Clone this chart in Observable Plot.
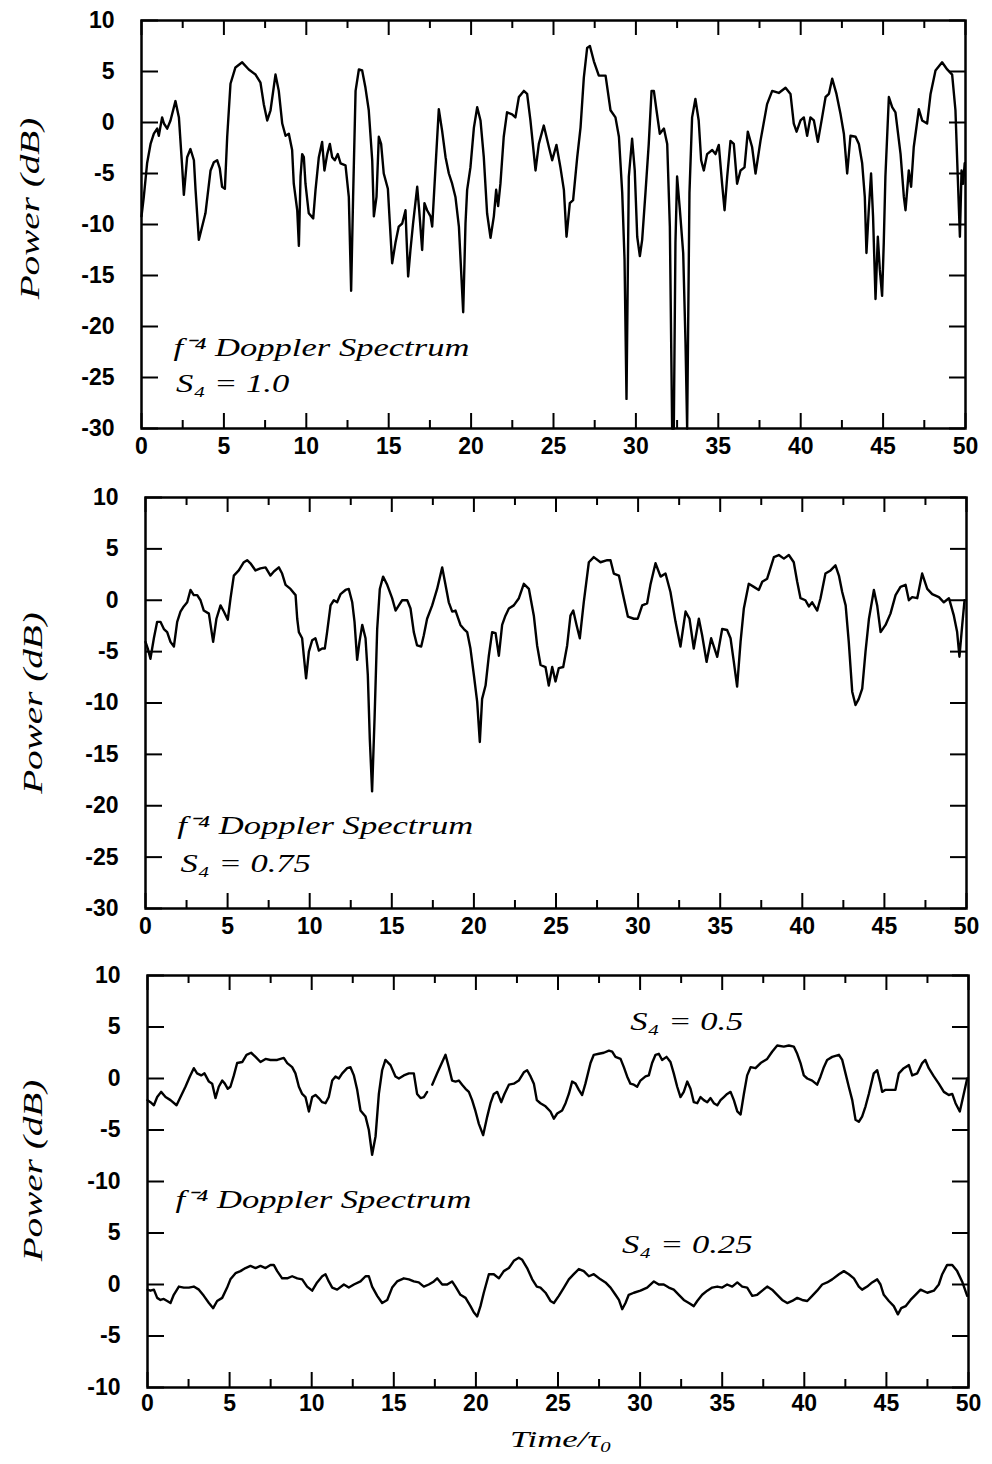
<!DOCTYPE html>
<html><head><meta charset="utf-8">
<script src="https://cdn.jsdelivr.net/npm/d3@7"></script>
<script src="https://cdn.jsdelivr.net/npm/@observablehq/plot@0.6"></script>
<style>
body{margin:0;background:#fff;width:992px;height:1464px;overflow:hidden}
#chart svg{display:block;overflow:visible}
</style>
</head><body><div id="chart"></div>
<script>
// ---------- axis ticks ----------
const xMajorTicks = [0, 5, 10, 15, 20, 25, 30, 35, 40, 45, 50];
const xMinorTicks = [2.5, 7.5, 12.5, 17.5, 22.5, 27.5, 32.5, 37.5, 42.5, 47.5];
const yTicks = [10, 5, 0, -5, -10, -15, -20, -25, -30];
const yTickLabelsTop = ["10", "5", "0", "-5", "-10", "-15", "-20", "-25", "-30"];
const yTickLabelsBottom = ["10", "5", "0", "-5", "-10", "5", "0", "-5", "-10"];
const lowerOffset = -20; // S4 = 0.25 trace is drawn 20 dB lower in panel 3

// ---------- panel 1 : S4 = 1.0 ----------
const p1Time = [0,0.14,0.34,0.55,0.75,0.95,1.05,1.25,1.36,1.56,1.76,2.06,2.27,2.47,2.57,2.77,2.97,3.18,3.28,3.48,3.68,3.88,4.19,4.39,4.59,4.75,4.89,5.06,5.2,5.4,5.7,6.11,6.51,6.92,7.22,7.42,7.63,7.83,8.13,8.33,8.54,8.74,8.94,9.14,9.24,9.45,9.55,9.65,9.75,9.85,9.95,10.15,10.42,10.56,10.76,10.96,11.1,11.27,11.43,11.57,11.73,11.91,12.08,12.38,12.58,12.72,12.84,12.99,13.19,13.39,13.59,13.79,14.0,14.1,14.26,14.4,14.54,14.7,14.95,15.07,15.21,15.41,15.61,15.82,16.02,16.08,16.18,16.32,16.48,16.73,16.85,17.03,17.17,17.33,17.54,17.64,17.84,18.04,18.24,18.45,18.65,18.85,19.05,19.26,19.52,19.66,19.76,19.96,20.17,20.37,20.57,20.77,20.97,21.18,21.38,21.52,21.64,21.78,21.98,22.18,22.49,22.69,22.9,23.2,23.4,23.6,23.91,24.11,24.41,24.72,24.92,25.18,25.42,25.63,25.79,25.99,26.19,26.44,26.64,26.84,27.04,27.21,27.45,27.75,28.16,28.46,28.76,28.97,29.17,29.31,29.43,29.57,29.77,29.93,30.08,30.24,30.38,30.58,30.78,30.95,31.09,31.25,31.45,31.7,31.9,32.06,32.2,32.3,32.4,32.5,32.67,32.87,33.01,33.11,33.25,33.41,33.61,33.81,33.96,34.12,34.32,34.63,34.83,35.03,35.23,35.38,35.54,35.74,35.94,36.14,36.35,36.59,36.79,37.05,37.26,37.56,37.96,38.27,38.67,39.08,39.38,39.58,39.75,39.99,40.19,40.39,40.59,40.8,41.04,41.3,41.51,41.71,41.91,42.17,42.42,42.62,42.82,43.02,43.33,43.53,43.73,43.89,43.99,44.13,44.27,44.39,44.54,44.68,44.8,44.94,45.04,45.14,45.35,45.55,45.75,46.06,46.26,46.36,46.56,46.7,46.86,47.17,47.37,47.67,47.88,48.18,48.58,48.89,49.19,49.39,49.53,49.66,49.76,49.86,49.95];
const p1Power = [-9.2,-7.3,-4.0,-2.1,-1.1,-0.6,-1.3,0.5,-0.1,-0.6,0.2,2.1,0.5,-4.4,-7.1,-3.4,-2.6,-3.7,-6.6,-11.5,-10.2,-8.9,-4.7,-3.9,-3.7,-4.5,-6.3,-6.5,-1.4,3.8,5.4,5.9,5.2,4.7,3.9,1.8,0.2,1.2,4.7,3.1,-0.1,-1.3,-1.1,-2.7,-6.0,-8.6,-12.1,-5.3,-3.1,-3.4,-6.0,-8.9,-9.4,-6.6,-3.4,-1.9,-4.7,-3.1,-2.1,-3.4,-3.7,-3.1,-4.0,-4.2,-7.3,-16.5,-7.3,3.1,5.2,5.1,3.4,1.2,-3.7,-9.2,-7.3,-1.4,-2.1,-5.0,-6.5,-9.9,-13.8,-11.8,-10.2,-9.9,-8.6,-11.2,-15.1,-12.5,-9.9,-6.3,-8.6,-12.5,-7.9,-8.6,-9.2,-10.2,-4.4,1.3,-0.8,-3.4,-5.0,-6.0,-7.3,-10.2,-18.6,-9.9,-6.6,-4.4,-0.5,1.5,0.2,-3.4,-8.9,-11.3,-9.2,-6.6,-8.2,-6.0,-1.4,1.0,0.8,0.5,2.5,3.1,2.8,0.2,-4.7,-2.1,-0.3,-2.4,-3.7,-2.2,-4.4,-6.6,-11.2,-7.9,-7.6,-3.4,-0.5,4.4,7.3,7.5,6.0,4.6,4.6,1.2,0.5,-1.4,-6.9,-13.4,-27.1,-5.3,-1.6,-4.7,-11.2,-13.1,-11.5,-6.9,-2.1,3.1,3.1,1.2,-1.1,-0.6,-2.1,-10.2,-30,-30,-11.8,-5.3,-8.6,-12.8,-21.6,-30,-6.9,0.5,2.3,0.2,-3.7,-4.7,-3.1,-2.7,-3.1,-2.2,-6.0,-8.6,-5.3,-1.8,-2.1,-6.0,-4.7,-4.4,-0.9,-2.4,-5.0,-1.8,1.8,3.1,2.9,3.4,2.8,-0.1,-0.9,0.2,0.5,-1.3,0.5,0.2,-1.9,0.5,2.5,2.8,4.3,2.8,0.8,-1.1,-5.0,-1.3,-1.4,-2.1,-4.0,-7.3,-12.8,-8.6,-5.0,-9.2,-17.3,-11.2,-14.4,-17.0,-11.8,-5.3,2.5,1.5,1.0,-3.1,-7.3,-8.6,-4.7,-6.3,-2.4,1.3,0.2,-0.1,2.8,5.1,5.9,5.2,4.7,1.2,-5.3,-11.2,-4.7,-6.0,-4.0];

// ---------- panel 2 : S4 = 0.75 ----------
const p2Time = [0,0.14,0.3,0.51,0.71,0.91,1.12,1.32,1.52,1.73,1.93,2.13,2.33,2.54,2.74,2.94,3.15,3.35,3.55,3.86,4.12,4.32,4.57,4.77,5.01,5.18,5.38,5.68,5.99,6.19,6.39,6.7,7.0,7.31,7.61,7.82,8.12,8.32,8.53,8.83,9.14,9.24,9.34,9.54,9.64,9.78,9.95,10.15,10.35,10.56,10.76,10.92,11.06,11.27,11.47,11.67,11.88,12.18,12.38,12.59,12.73,12.89,13.03,13.2,13.4,13.54,13.66,13.8,13.95,14.11,14.27,14.47,14.72,15.02,15.23,15.43,15.63,15.94,16.14,16.34,16.54,16.79,16.95,17.15,17.46,17.76,18.07,18.27,18.47,18.68,18.88,19.18,19.39,19.59,19.79,20.0,20.2,20.36,20.5,20.71,20.91,21.11,21.32,21.52,21.72,21.92,22.13,22.43,22.74,23.04,23.35,23.65,23.85,24.06,24.36,24.56,24.77,24.97,25.17,25.44,25.68,25.88,26.05,26.25,26.45,26.69,27.0,27.3,27.71,28.12,28.32,28.52,28.83,29.13,29.38,29.74,29.98,30.25,30.55,30.75,31.06,31.37,31.67,31.97,32.28,32.58,32.89,33.13,33.39,33.7,33.9,34.17,34.45,34.82,35.12,35.42,35.63,35.83,36.03,36.24,36.44,36.74,37.05,37.35,37.56,37.86,38.27,38.57,38.88,39.18,39.48,39.69,39.89,40.19,40.4,40.6,40.91,41.11,41.41,41.72,42.02,42.23,42.43,42.64,42.83,43.04,43.24,43.44,43.65,43.85,44.06,44.36,44.56,44.77,45.07,45.37,45.68,45.98,46.29,46.49,46.69,47.0,47.3,47.61,47.91,48.32,48.62,48.93,49.23,49.43,49.57,49.74,49.88];
const p2Power = [-4.05,-4.7,-5.7,-3.7,-2.1,-2.1,-2.8,-3.1,-4.05,-4.5,-2.1,-1.1,-0.6,-0.2,1.0,0.5,0.5,0,-1.0,-1.3,-4.05,-1.8,-0.5,-1.1,-1.9,0.2,2.4,2.9,3.7,3.9,3.6,2.9,3.1,3.2,2.4,2.8,3.2,2.6,1.5,1.1,0.5,-1.8,-3.1,-3.7,-5.4,-7.6,-5.0,-3.9,-3.7,-4.9,-4.7,-4.7,-3.1,-0.5,0,-0.2,0.6,1.0,1.1,-0.2,-2.1,-5.8,-4.05,-2.4,-3.7,-7.3,-13.5,-18.6,-11.5,-2.8,1.1,2.3,1.5,0.2,-1.0,-0.5,0,0,-0.8,-3.1,-4.4,-4.5,-3.4,-1.8,-0.5,1.1,3.2,1.5,-0.2,-1.1,-1.0,-2.4,-2.8,-3.1,-4.7,-7.3,-9.9,-13.8,-9.6,-8.3,-5.4,-3.1,-3.2,-5.4,-2.4,-1.5,-0.8,-0.5,0.2,1.6,1.1,-1.5,-4.4,-6.3,-6.5,-8.3,-6.5,-7.9,-6.6,-6.5,-4.4,-1.5,-1.0,-2.4,-3.7,-0.2,3.7,4.2,3.7,3.9,3.9,2.6,2.4,0.2,-1.6,-1.8,-1.8,-0.5,-0.3,1.5,3.6,2.3,2.6,0.8,-2.1,-4.5,-1.1,-1.8,-4.7,-1.8,-3.4,-6.0,-3.7,-5.5,-2.8,-2.9,-3.7,-6.0,-8.4,-4.05,-0.8,1.6,1.3,1.0,1.8,2.1,4.2,4.4,4.05,4.4,3.7,1.8,0.2,0,-0.6,-0.2,-1.0,0.2,2.6,2.9,3.4,2.4,0.8,-0.5,-4.05,-8.9,-10.2,-9.6,-8.6,-5.0,-1.8,1.0,-0.5,-3.1,-2.4,-1.3,0.5,1.3,1.5,0,0.3,0.2,2.6,1.1,0.6,0.3,-0.2,0.2,-1.5,-3.1,-5.5,-2.4,0];

// ---------- panel 3 : S4 = 0.5 (upper) ----------
const p3aTime = [0,0.18,0.39,0.59,0.83,1.1,1.4,1.77,2.01,2.31,2.58,2.82,3.02,3.27,3.47,3.74,3.94,4.14,4.34,4.55,4.71,4.89,5.05,5.26,5.46,5.77,6.03,6.31,6.58,6.88,7.19,7.49,7.9,8.3,8.51,8.81,9.01,9.22,9.42,9.62,9.83,10.03,10.23,10.43,10.64,10.84,11.04,11.25,11.45,11.65,11.86,12.16,12.36,12.57,12.77,12.97,13.28,13.48,13.68,13.89,14.09,14.29,14.49,14.8,15.1,15.31,15.61,15.92,16.22,16.42,16.63,16.83,17.03,17.2,17.34,17.64,17.95,18.15,18.35,18.55,18.76,18.96,19.16,19.37,19.57,19.77,19.98,20.18,20.44,20.69,20.89,21.09,21.3,21.54,21.74,22.01,22.31,22.61,22.92,23.12,23.33,23.53,23.71,23.93,24.24,24.54,24.75,24.95,25.25,25.46,25.66,25.86,26.07,26.27,26.47,26.67,26.98,27.18,27.49,27.79,28.1,28.3,28.5,28.81,29.01,29.21,29.41,29.62,29.82,30.02,30.33,30.53,30.73,30.94,31.14,31.34,31.61,31.85,32.05,32.26,32.46,32.66,32.87,33.07,33.27,33.48,33.68,33.88,34.09,34.29,34.49,34.7,34.9,35.1,35.3,35.51,35.71,35.92,36.12,36.32,36.52,36.73,37.03,37.34,37.74,38.04,38.35,38.75,39.06,39.36,39.57,39.77,39.97,40.18,40.48,40.78,40.99,41.19,41.39,41.7,42.11,42.31,42.51,42.71,42.92,43.12,43.32,43.52,43.73,43.93,44.23,44.44,44.64,44.74,44.95,45.25,45.55,45.76,46.06,46.37,46.57,46.88,47.18,47.37,47.58,47.89,48.19,48.5,48.8,49.01,49.21,49.47,49.67,49.92];
const p3aPower = [-2.1,-2.3,-2.6,-1.8,-1.3,-1.8,-2.1,-2.6,-1.8,-0.8,0.2,1.0,0.5,0.3,0.5,-0.3,-0.5,-1.9,-0.8,-0.2,-0.5,-1.0,-0.8,0.3,1.5,1.6,2.3,2.5,2.1,1.6,1.9,1.8,1.8,2.0,1.5,1.1,0.5,-0.8,-1.5,-1.8,-3.2,-1.8,-1.6,-1.9,-2.3,-2.4,-1.8,-0.2,0.2,0,0.5,1.0,1.1,0.3,-1.1,-3.1,-3.7,-5.0,-7.4,-5.6,-1.5,0.8,1.8,1.3,0.2,0,0.3,0.5,0.5,-1.5,-1.9,-1.8,-1.3,null,-0.6,0.5,1.6,2.3,1.1,-0.2,-0.3,-0.2,-0.6,-1.0,-1.3,-2.1,-3.2,-4.4,-5.5,-3.7,-2.4,-1.5,-1.3,-2.3,-1.5,-0.6,-0.5,-0.2,0.6,0.8,0.2,-0.5,-2.1,-2.4,-2.7,-3.2,-3.9,-3.4,-3.1,-2.4,-1.5,-0.3,-0.5,-1.1,-1.6,-0.5,1.5,2.3,2.4,2.5,2.7,2.6,2.1,1.9,1.1,0.2,-0.5,-0.6,-0.8,-0.2,0.2,0.3,1.5,2.3,2.4,1.8,2.1,1.6,0.5,-0.8,-1.8,-1.3,-0.3,-1.0,-2.3,-2.4,-1.8,-2.1,-2.3,-1.9,-2.4,-2.6,-2.1,-1.8,-1.5,-1.3,-2.1,-3.2,-3.5,-1.5,0.3,1.1,1.0,1.5,1.9,2.6,3.2,3.1,3.2,3.1,2.4,1.5,0.3,0,-0.2,-0.6,0.2,1.1,1.8,2.1,2.3,1.8,0.5,-0.8,-2.1,-4.0,-4.2,-3.7,-2.7,-1.5,0.5,0.8,-0.5,-1.3,-1.1,-1.1,-1.1,0.5,1.0,1.3,0.3,0.5,1.5,1.8,1.0,0.2,-0.5,-1.3,-1.6,-1.5,-2.4,-3.2,-1.8,0];

// ---------- panel 3 : S4 = 0.25 (lower, values in its own dB scale) ----------
const p3bTime = [0,0.18,0.39,0.59,0.79,0.99,1.2,1.4,1.6,1.91,2.21,2.52,2.82,3.13,3.43,3.74,4.0,4.24,4.55,4.85,5.05,5.36,5.66,5.97,6.27,6.58,6.88,7.19,7.49,7.69,7.9,8.2,8.51,8.81,9.12,9.42,9.72,10.03,10.33,10.64,10.84,11.04,11.25,11.55,11.96,12.26,12.57,12.97,13.28,13.48,13.68,13.99,14.29,14.6,14.9,15.2,15.61,15.92,16.22,16.52,16.83,17.13,17.44,17.64,17.95,18.25,18.55,18.76,19.06,19.37,19.67,19.87,20.08,20.28,20.48,20.79,21.09,21.4,21.7,22.01,22.31,22.61,22.82,23.12,23.43,23.71,23.93,24.24,24.54,24.75,25.05,25.36,25.66,25.96,26.27,26.57,26.88,27.18,27.59,27.89,28.2,28.5,28.71,28.91,29.11,29.31,29.62,30.02,30.43,30.84,31.14,31.44,31.75,32.05,32.36,32.66,32.97,33.27,33.48,33.78,34.09,34.39,34.7,35.0,35.3,35.61,35.92,36.22,36.52,36.83,37.13,37.44,37.74,38.04,38.35,38.65,38.96,39.26,39.57,39.87,40.18,40.48,40.78,41.09,41.39,41.7,42.11,42.41,42.71,43.02,43.32,43.52,43.83,44.13,44.44,44.64,44.84,45.15,45.45,45.7,45.9,46.17,46.47,46.77,47.08,47.49,47.89,48.19,48.4,48.7,49.01,49.31,49.61,49.92];
const p3bPower = [-0.5,-0.6,-0.5,-1.3,-1.5,-1.4,-1.6,-1.8,-1.0,-0.2,-0.3,-0.3,-0.2,-0.5,-1.1,-1.8,-2.3,-1.6,-1.3,-0.3,0.5,1.1,1.3,1.6,1.8,1.6,1.8,1.6,1.9,1.9,1.3,0.6,0.6,0.8,0.6,0.5,-0.2,-0.6,0.2,0.8,1.0,0.3,-0.3,-0.5,0,-0.3,0,0.3,0.8,0.8,-0.2,-1.1,-1.8,-1.5,-0.3,0.3,0.6,0.5,0.3,0.2,-0.2,0,0.3,0.6,0,0,0.3,-0.2,-1.0,-1.3,-2.1,-2.7,-3.1,-2.1,-0.8,1.0,1.0,0.6,1.3,1.6,2.3,2.6,2.4,1.6,0.5,-0.2,-0.3,-0.8,-1.6,-1.8,-1.1,-0.3,0.5,1.0,1.5,1.3,0.8,1.0,0.5,0.2,-0.3,-1.0,-1.5,-2.4,-1.8,-1.0,-0.8,-0.6,-0.3,0.3,0,0,-0.3,-0.5,-1.0,-1.5,-1.8,-2.1,-1.6,-1.0,-0.6,-0.3,-0.2,-0.3,0,-0.2,0.2,-0.2,-0.3,-1.1,-1.0,-0.6,-0.2,-0.5,-1.0,-1.5,-1.8,-1.6,-1.3,-1.5,-1.6,-1.1,-0.6,0,0.2,0.5,1.0,1.3,1.0,0.6,-0.2,-0.5,-0.2,0.2,0.5,0,-1.0,-1.6,-2.1,-2.9,-2.3,-2.1,-1.5,-1.0,-0.5,-0.8,-0.6,0,1.0,1.9,1.9,1.3,0.3,-1.1];

// ---------- text ----------
const yAxisLabel = "Power (dB)";
const xAxisLabel = "Time/τ₀";
const spectrumLabel = "f⁻⁴ Doppler Spectrum";
const p1Notes = [{t: 1.94, p: -22.1, text: spectrumLabel}, {t: 2.1, p: -25.6, text: "S₄ = 1.0"}];
const p2Notes = [{t: 1.93, p: -21.9, text: spectrumLabel}, {t: 2.13, p: -25.6, text: "S₄ = 0.75"}];
const p3Notes = [{t: 1.7, p: -11.8, text: spectrumLabel}, {t: 29.4, p: 5.5, text: "S₄ = 0.5"}, {t: 28.9, p: -16.1, text: "S₄ = 0.25"}];

const rows = (ts, ps) => ts.map((t, i) => ({t, p: ps[i]}));
const SERIF = "'Liberation Serif', 'Times New Roman', serif";
const SANS = "'Liberation Sans', Arial, Helvetica, sans-serif";
const noteTexts = new Set([...p1Notes, ...p2Notes, ...p3Notes].map(d => d.text));

// horizontal widening of the serif labels (the original typeface is wider than Times)
function stretchText(svg) {
  svg.querySelectorAll("text").forEach(t => {
    const s = t.textContent;
    let k = 0;
    if (noteTexts.has(s)) k = 1.33;
    else if (s === yAxisLabel) k = 1.4;
    else if (s === xAxisLabel) k = 1.45;
    if (!k) return;
    const x = +t.getAttribute("x") || 0, y = +t.getAttribute("y") || 0;
    const tr = t.getAttribute("transform") || "";
    t.setAttribute("transform", `${tr} translate(${x} ${y}) scale(${k} 1) translate(${-x} ${-y})`);
  });
}

function panel(cfg) {
  const {height, mt, mb, ml, mr, series, notes, yLabels, labelDx, labelDy, xPad, extra = []} = cfg;
  const fh = height - mt - mb, fw = 992 - ml - mr;
  const labelMap = new Map(yTicks.map((v, i) => [v, yLabels[i]]));
  const svg = Plot.plot({
    width: 992, height,
    marginTop: mt, marginBottom: mb, marginLeft: ml, marginRight: mr,
    x: {domain: [0, 50]},
    y: {domain: [-30, 10]},
    style: {background: "white", color: "black", fontFamily: SANS},
    marks: [
      Plot.tickX(xMajorTicks, {x: d => d, insetTop: fh - 15, strokeWidth: 2}),
      Plot.tickX(xMajorTicks, {x: d => d, insetBottom: fh - 15, strokeWidth: 2}),
      Plot.tickX(xMinorTicks, {x: d => d, insetTop: fh - 8, strokeWidth: 2}),
      Plot.tickX(xMinorTicks, {x: d => d, insetBottom: fh - 8, strokeWidth: 2}),
      Plot.tickY(yTicks, {y: d => d, insetRight: fw - 17, strokeWidth: 2}),
      Plot.tickY(yTicks, {y: d => d, insetLeft: fw - 16, strokeWidth: 2}),
      Plot.axisX({ticks: xMajorTicks, tickSize: 0, tickPadding: xPad, tickFormat: d => String(d),
        fontSize: 23, fontWeight: "bold", fontFamily: SANS, label: null}),
      Plot.axisY({ticks: yTicks, tickSize: 0, tickPadding: 27, tickFormat: d => labelMap.get(d),
        fontSize: 23, fontWeight: "bold", fontFamily: SANS, label: null}),
      ...series.map(s => Plot.line(s.data, {x: "t", y: s.y, stroke: "black", strokeWidth: 2.4, strokeLinejoin: "round"})),
      Plot.text(notes, {x: "t", y: "p", text: "text", textAnchor: "start", lineAnchor: "middle",
        fontSize: 26, fontStyle: "italic", fontFamily: SERIF}),
      Plot.text([yAxisLabel], {text: d => d, frameAnchor: "left", rotate: -90, dx: labelDx, dy: labelDy,
        textAnchor: "middle", lineAnchor: "middle", fontSize: 28, fontStyle: "italic", fontFamily: SERIF}),
      ...extra,
      Plot.frame({stroke: "black", strokeWidth: 2.5})
    ]
  });
  stretchText(svg);
  return svg;
}

const chart = document.getElementById("chart");
chart.append(panel({
  height: 470, mt: 20, mb: 42, ml: 141, mr: 27, xPad: 9, labelDx: -111, labelDy: -16,
  series: [{data: rows(p1Time, p1Power), y: "p"}], notes: p1Notes, yLabels: yTickLabelsTop
}));
chart.append(panel({
  height: 475, mt: 27, mb: 37, ml: 145, mr: 26, xPad: 9, labelDx: -112, labelDy: 0,
  series: [{data: rows(p2Time, p2Power), y: "p"}], notes: p2Notes, yLabels: yTickLabelsTop
}));
chart.append(panel({
  height: 519, mt: 30, mb: 77, ml: 147, mr: 24, xPad: 7, labelDx: -114, labelDy: -11,
  series: [
    {data: rows(p3aTime, p3aPower), y: "p"},
    {data: rows(p3bTime, p3bPower), y: d => d.p + lowerOffset}
  ],
  notes: p3Notes, yLabels: yTickLabelsBottom,
  extra: [Plot.text([xAxisLabel], {text: d => d, frameAnchor: "bottom", dy: 52, dx: 3, textAnchor: "middle", lineAnchor: "middle",
    fontSize: 24, fontStyle: "italic", fontFamily: SERIF})]
}));
</script>
</body></html>
